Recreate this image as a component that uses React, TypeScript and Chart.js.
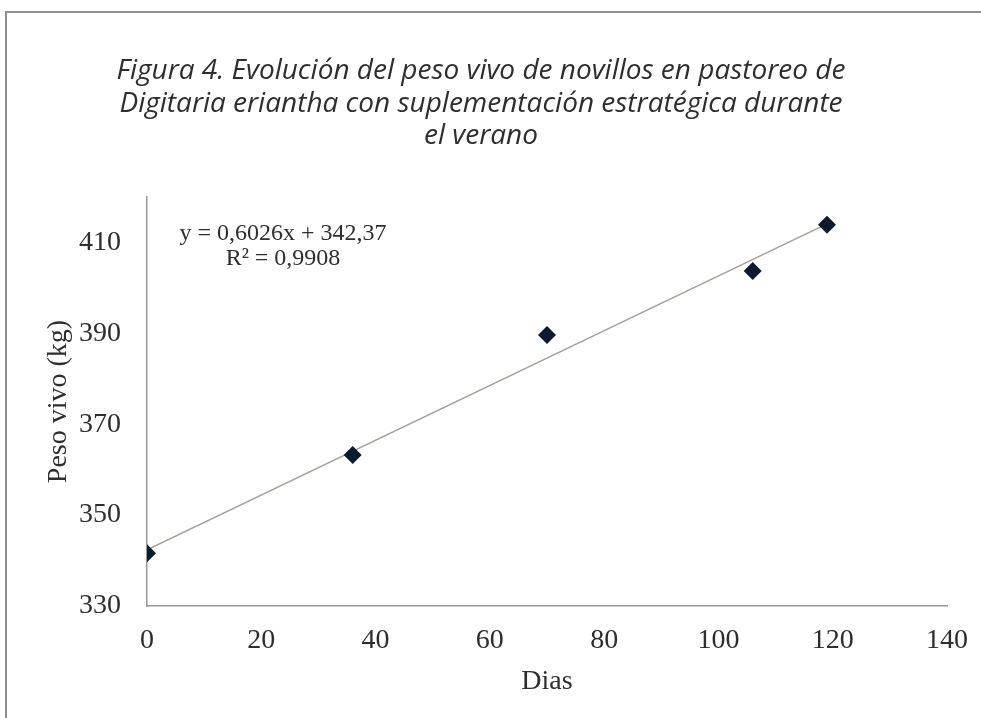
import React, { useEffect, useRef } from 'react';
import { Chart, registerables } from 'chart.js';

Chart.register(...registerables);

const DAYS = [0, 36, 70, 106, 119];
const WEIGHT = [341.6, 363.2, 389.6, 403.7, 413.9];
const TREND_X = [0, 119];
const TREND_Y = [342.37, 414.08];
const X_TICKS = [0, 20, 40, 60, 80, 100, 120, 140];
const Y_TICKS = [330, 350, 370, 390, 410];
const TITLE_LINES = [
  'Figura 4. Evolución del peso vivo de novillos en pastoreo de',
  'Digitaria eriantha con suplementación estratégica durante',
  'el verano',
];
const EQUATION_LINES = ['y = 0,6026x + 342,37', 'R² = 0,9908'];
const EQ_ANCHOR_X = 23.8;
const EQ_ANCHOR_Y = 412.0;

const SERIF = "'Liberation Serif', 'Times New Roman', serif";

const equationPlugin = {
  id: 'equationText',
  afterDatasetsDraw(chart: any) {
    const { ctx, scales } = chart;
    const x = scales.x.getPixelForValue(EQ_ANCHOR_X);
    const y = scales.y.getPixelForValue(EQ_ANCHOR_Y);
    ctx.save();
    ctx.font = `24px ${SERIF}`;
    ctx.fillStyle = '#2e2e2e';
    ctx.textAlign = 'center';
    ctx.textBaseline = 'middle';
    EQUATION_LINES.forEach((line, i) => {
      ctx.fillText(line, x, y + i * 25);
    });
    ctx.restore();
  },
};

export default function App() {
  const canvasRef = useRef<HTMLCanvasElement | null>(null);

  useEffect(() => {
    if (!canvasRef.current) return;
    const chart = new Chart(canvasRef.current, {
      type: 'scatter',
      data: {
        datasets: [
          {
            label: 'Peso vivo',
            data: DAYS.map((d, i) => ({ x: d, y: WEIGHT[i] })),
            pointStyle: 'rectRot',
            pointRadius: 9,
            pointHoverRadius: 9,
            backgroundColor: '#0c1a30',
            borderColor: '#0c1a30',
            borderWidth: 0,
            order: 0,
          },
          {
            type: 'line',
            label: 'Lineal (Peso vivo)',
            data: TREND_X.map((d, i) => ({ x: d, y: TREND_Y[i] })),
            borderColor: '#a59f98',
            borderWidth: 1.5,
            pointRadius: 0,
            fill: false,
            order: 1,
          } as any,
        ],
      },
      options: {
        responsive: false,
        animation: false,
        events: [],
        layout: { padding: { left: 15, right: 34, top: 0, bottom: 0 } },
        plugins: {
          legend: { display: false },
          tooltip: { enabled: false },
          title: {
            display: true,
            text: TITLE_LINES,
            color: '#2e2e2e',
            font: { family: "'Open Sans', sans-serif", style: 'italic', size: 28, weight: 'normal', lineHeight: 1.16 },
            padding: { top: 55, bottom: 44.5 },
          },
        },
        scales: {
          x: {
            type: 'linear',
            min: 0,
            max: 140,
            afterBuildTicks: (s: any) => {
              s.ticks = X_TICKS.map((v) => ({ value: v }));
            },
            afterFit: (s: any) => {
              s.height = 112;
              s.paddingLeft = 0;
              s.paddingRight = 0;
            },
            grid: { display: false, drawTicks: false },
            border: { display: true, color: '#9a9a9a', width: 1.5 },
            ticks: {
              font: { family: SERIF, size: 28 },
              color: '#2e2e2e',
              padding: 18,
              maxRotation: 0,
              autoSkip: false,
            },
            title: {
              display: true,
              text: 'Dias',
              color: '#2e2e2e',
              font: { family: SERIF, size: 28 },
              padding: { top: 0, bottom: 20 },
            },
          },
          y: {
            type: 'linear',
            min: 330,
            max: 420,
            afterBuildTicks: (s: any) => {
              s.ticks = Y_TICKS.map((v) => ({ value: v }));
            },
            afterFit: (s: any) => {
              s.width = 132;
            },
            grid: { display: false, drawTicks: false },
            border: { display: true, color: '#9a9a9a', width: 1.5 },
            ticks: {
              font: { family: SERIF, size: 28 },
              color: '#2e2e2e',
              padding: 26,
              autoSkip: false,
            },
            title: {
              display: true,
              text: 'Peso vivo (kg)',
              color: '#2e2e2e',
              font: { family: SERIF, size: 28 },
              padding: { top: 27, bottom: 0 },
            },
          },
        },
      },
      plugins: [equationPlugin],
    });
    return () => chart.destroy();
  }, []);

  return (
    <div style={{ position: 'absolute', left: 0, top: 0, width: 981, height: 718, background: '#ffffff' }}>
      <canvas ref={canvasRef} width={981} height={718} style={{ display: 'block' }} />
      <div
        style={{
          position: 'absolute',
          left: 5,
          top: 11,
          width: 976,
          height: 707,
          borderTop: '2px solid #8e8e8e',
          borderLeft: '2px solid #8e8e8e',
          boxSizing: 'border-box',
          pointerEvents: 'none',
        }}
      />
    </div>
  );
}
